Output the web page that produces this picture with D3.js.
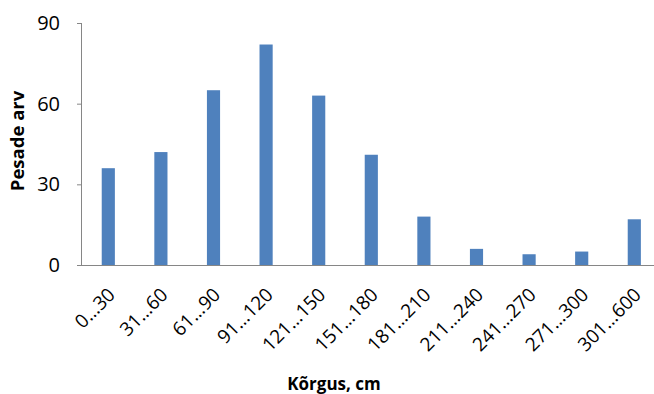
<!DOCTYPE html>
<html><head><meta charset="utf-8">
<script src="https://cdn.jsdelivr.net/npm/d3@7"></script>
<style>body{margin:0;background:#fff;} svg{display:block;}</style>
</head><body>
<script>
const categories = ["0…30","31…60","61…90","91…120","121…150","151…180","181…210","211…240","241…270","271…300","301…600"];
const values = [36, 42, 65, 82, 63, 41, 18, 6, 4, 5, 17];
const yTicks = [0, 30, 60, 90];

(function(){
const W = 654, H = 394;
const svg = d3.select("body").append("svg").attr("width", W).attr("height", H);
const mLeft = 82, mRight = 660.6, mTop = 23, mBottom = 265;
const x = d3.scaleBand().domain(categories).range([mLeft, mRight]).paddingInner(0.75).paddingOuter(0.375);
const y = d3.scaleLinear().domain([0, 90]).range([mBottom, mTop]);
const font = "'Open Sans', 'Liberation Sans', sans-serif";

svg.selectAll("rect.bar").data(values).enter().append("rect")
  .attr("class","bar")
  .attr("x", (d,i) => x(categories[i]))
  .attr("width", x.bandwidth())
  .attr("y", d => y(d))
  .attr("height", d => y(0) - y(d))
  .attr("fill", "#4F81BD");

const yAxis = svg.append("g").attr("transform", `translate(${mLeft},0)`)
  .call(d3.axisLeft(y).tickValues(yTicks).tickSize(5).tickPadding(17).tickFormat(d3.format("d")));
yAxis.select(".domain").attr("stroke", "#868686").attr("d", `M-0.5,${mTop}V${mBottom}`);
yAxis.selectAll(".tick line").attr("stroke", "#868686");
yAxis.selectAll("text").attr("font-family", font).attr("font-size", 20).attr("fill", "#000");

const xAxis = svg.append("g").attr("transform", `translate(0,${mBottom})`)
  .call(d3.axisBottom(x).tickSize(0).tickPadding(0));
xAxis.select(".domain").attr("stroke", "#868686").attr("d", `M${mLeft},0.5H${mRight}`);
xAxis.selectAll("text")
  .attr("font-family", font).attr("font-size", 19).attr("fill", "#000")
  .attr("text-anchor", "end")
  .attr("dy", 0)
  .attr("transform", "translate(8,31) rotate(-45)");

svg.append("text").attr("x", 334).attr("y", 390).attr("text-anchor","middle")
  .attr("font-family", font).attr("font-size", 17).attr("font-weight","bold").text("Kõrgus, cm");
svg.append("text").attr("transform", "translate(24,141) rotate(-90)").attr("text-anchor","middle")
  .attr("font-family", font).attr("font-size", 18.5).attr("font-weight","bold").text("Pesade arv");
})();
</script>
</body></html>
